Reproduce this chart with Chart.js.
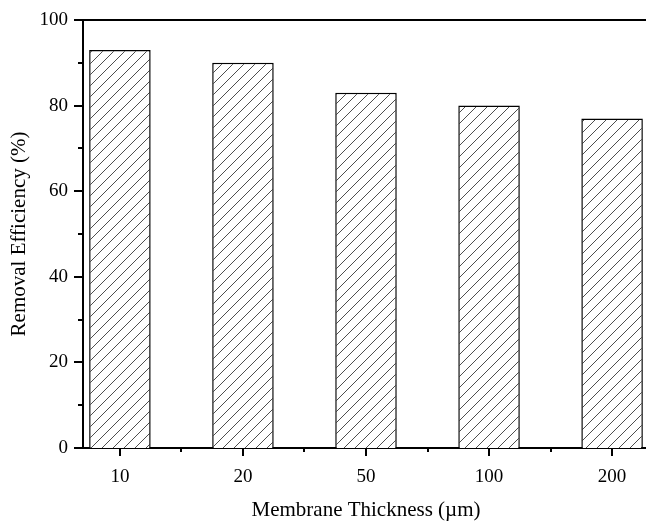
<!DOCTYPE html>
<html>
<head>
<meta charset="utf-8">
<script src="https://cdn.jsdelivr.net/npm/chart.js@4/dist/chart.umd.min.js"></script>
<style>
  html, body { margin: 0; padding: 0; background: #fff; overflow: hidden; }
  #wrap { width: 646px; height: 521px; overflow: hidden; }
  canvas { display: block; }
</style>
</head>
<body>
<div id="wrap"><canvas id="chart" width="649" height="521"></canvas></div>
<script>
// Membrane thickness categories (µm) and removal efficiency (%)
const thicknessLabels = ['10', '20', '50', '100', '200'];
const removalEfficiency = [93, 90, 83, 80, 77];
const yTickValues = [0, 20, 40, 60, 80, 100];
const yMinorValues = [10, 30, 50, 70, 90];

const FONT = "'Liberation Serif', 'Times New Roman', serif";

// Diagonal hatch fill for the bars
function makeHatch() {
  const s = 11;
  const c = document.createElement('canvas');
  c.width = s; c.height = s;
  const g = c.getContext('2d');
  g.fillStyle = '#fff';
  g.fillRect(0, 0, s, s);
  g.strokeStyle = '#3a3a3a';
  g.lineWidth = 0.9;
  g.beginPath();
  g.moveTo(0, s); g.lineTo(s, 0);
  g.moveTo(-1, 1); g.lineTo(1, -1);
  g.moveTo(s - 1, s + 1); g.lineTo(s + 1, s - 1);
  g.stroke();
  return g.createPattern(c, 'repeat');
}

// Frame lines and outward tick marks (long majors, short minors)
const framePlugin = {
  id: 'frame',
  afterDraw(chart) {
    const { ctx, chartArea: a, scales: { x, y } } = chart;
    ctx.save();
    ctx.strokeStyle = '#000';
    ctx.lineWidth = 2;
    ctx.beginPath();
    ctx.moveTo(a.left - 1, a.top);
    ctx.lineTo(a.right, a.top);
    ctx.lineTo(a.right, a.bottom);
    ctx.stroke();

    ctx.lineWidth = 2;
    ctx.beginPath();
    yTickValues.forEach(v => {
      const py = Math.round(y.getPixelForValue(v));
      ctx.moveTo(a.left, py); ctx.lineTo(a.left - 9, py);
    });
    yMinorValues.forEach(v => {
      const py = Math.round(y.getPixelForValue(v));
      ctx.moveTo(a.left, py); ctx.lineTo(a.left - 5, py);
    });
    thicknessLabels.forEach((_, i) => {
      const px = Math.round(x.getPixelForValue(i + 1));
      ctx.moveTo(px, a.bottom); ctx.lineTo(px, a.bottom + 8);
      if (i < thicknessLabels.length - 1) {
        const pm = Math.round(x.getPixelForValue(i + 1.5));
        ctx.moveTo(pm, a.bottom); ctx.lineTo(pm, a.bottom + 4);
      }
    });
    ctx.stroke();
    ctx.restore();
  }
};

const ctx = document.getElementById('chart').getContext('2d');
new Chart(ctx, {
  type: 'bar',
  data: {
    datasets: [{
      data: removalEfficiency.map((v, i) => ({ x: i + 1, y: v })),
      backgroundColor: makeHatch(),
      borderColor: '#000',
      borderWidth: 1.5,
      borderSkipped: 'bottom',
      categoryPercentage: 1,
      barPercentage: 0.5
    }]
  },
  options: {
    responsive: false,
    animation: false,
    layout: { padding: { top: 20, right: 0, bottom: 0, left: 0 } },
    plugins: { legend: { display: false }, tooltip: { enabled: false } },
    scales: {
      x: {
        type: 'linear',
        offset: false,
        min: 0.7,
        max: 5.3,
        afterBuildTicks(scale) {
          scale.ticks = thicknessLabels.map((_, i) => ({ value: i + 1 }));
        },
        afterFit(scale) {
          scale.height = 73;
          scale.paddingLeft = 0;
          scale.paddingRight = 0;
        },
        grid: { display: false, drawTicks: false, offset: false },
        border: { display: true, color: '#000', width: 2 },
        ticks: {
          color: '#000',
          padding: 18,
          maxRotation: 0,
          font: { family: FONT, size: 19 },
          callback: (v, i) => thicknessLabels[i]
        },
        title: {
          display: true,
          text: 'Membrane Thickness (\u00b5m)',
          color: '#000',
          font: { family: FONT, size: 21, lineHeight: 1 },
          padding: { top: 0, bottom: 0 }
        }
      },
      y: {
        min: 0,
        max: 100,
        afterBuildTicks(scale) {
          scale.ticks = yTickValues.map(v => ({ value: v }));
        },
        afterFit(scale) {
          scale.width = 83;
          scale.paddingTop = 0;
          scale.paddingBottom = 0;
        },
        grid: { display: false, drawTicks: false },
        border: { display: true, color: '#000', width: 2 },
        ticks: {
          color: '#000',
          padding: 15,
          font: { family: FONT, size: 19 }
        },
        title: {
          display: true,
          text: 'Removal Efficiency (%)',
          color: '#000',
          font: { family: FONT, size: 21, lineHeight: 1 },
          padding: { top: 9, bottom: 0 }
        }
      }
    }
  },
  plugins: [framePlugin]
});
</script>
</body>
</html>
